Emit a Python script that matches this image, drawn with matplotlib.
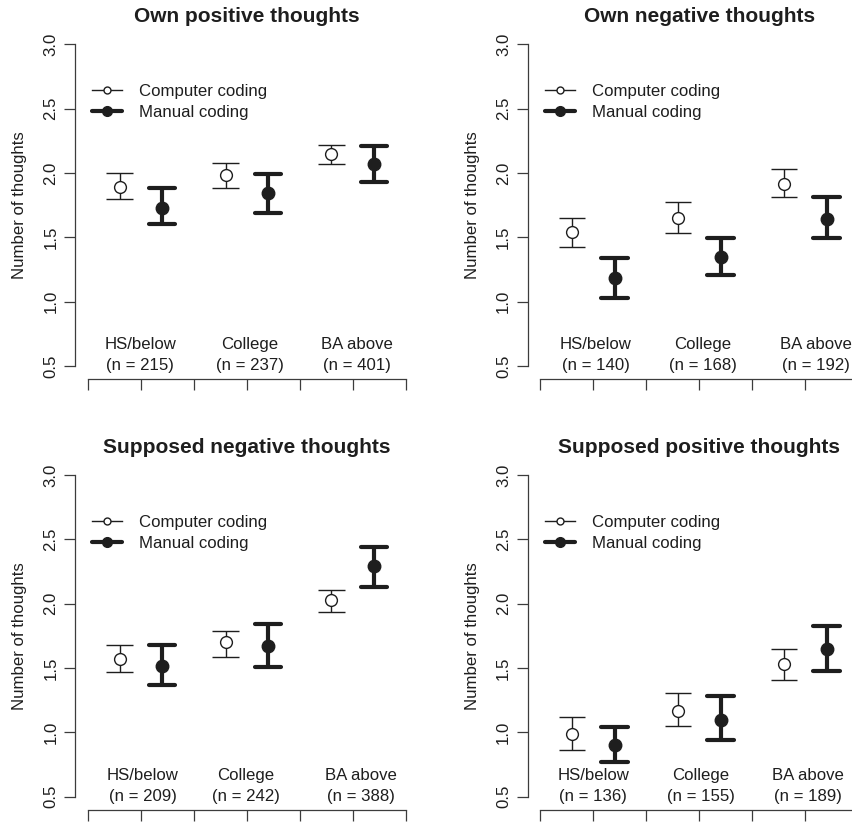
import numpy as np
import matplotlib
matplotlib.use("Agg")
import matplotlib.pyplot as plt
from matplotlib.lines import Line2D

plt.rcParams['font.family'] = ['Liberation Sans', 'DejaVu Sans']

ink = '#1e1e1e'
axis_col = '#3c3c3c'

titles = ["Own positive thoughts", "Own negative thoughts",
          "Supposed negative thoughts", "Supposed positive thoughts"]
groups = ["HS/below", "College", "BA above"]
group_n = [[215, 237, 401],
           [140, 168, 192],
           [209, 242, 388],
           [136, 155, 189]]

# one row per panel, one value per education group
comp_mean = [[1.89, 1.98, 2.15],
             [1.54, 1.65, 1.91],
             [1.57, 1.70, 2.03],
             [0.99, 1.17, 1.53]]
comp_lo = [[1.80, 1.88, 2.07],
           [1.42, 1.53, 1.81],
           [1.47, 1.59, 1.94],
           [0.86, 1.05, 1.41]]
comp_hi = [[2.00, 2.08, 2.22],
           [1.65, 1.77, 2.03],
           [1.68, 1.79, 2.11],
           [1.12, 1.31, 1.65]]

man_mean = [[1.73, 1.84, 2.07],
            [1.18, 1.35, 1.64],
            [1.52, 1.67, 2.29],
            [0.90, 1.10, 1.65]]
man_lo = [[1.60, 1.69, 1.93],
          [1.03, 1.21, 1.49],
          [1.37, 1.51, 2.13],
          [0.77, 0.94, 1.48]]
man_hi = [[1.88, 1.99, 2.21],
          [1.34, 1.49, 1.81],
          [1.68, 1.84, 2.44],
          [1.04, 1.28, 1.83]]

group_centers = np.array([1.0, 3.0, 5.0])
# x position of the group captions in each panel
label_x = [[0.99, 3.06, 5.08],
           [1.04, 3.06, 5.20],
           [1.04, 2.98, 5.15],
           [1.00, 3.02, 5.04]]
y_ticks = [0.5, 1.0, 1.5, 2.0, 2.5, 3.0]
y_tick_labels = ["0.5", "1.0", "1.5", "2.0", "2.5", "3.0"]

W, H = 852, 823
fig = plt.figure(figsize=(W / 100, H / 100), dpi=100)

# panel placement in pixels: left, top (plot region)
panel_px = [(75, 31.4), (527.7, 31.4), (75, 462.3), (527.7, 462.3)]
pw, ph = 343.4, 347.3

fs = 12.1
for i, (left, top) in enumerate(panel_px):
    ax = fig.add_axes([left / W, 1 - (top + ph) / H, pw / W, ph / H])
    ax.set_xlim(-0.24, 6.24)
    ax.set_ylim(0.4, 3.1)

    xc = group_centers - 0.4
    xm = group_centers + 0.4
    cw = 0.25

    # computer coding: thin bars, open circles
    ax.vlines(xc, comp_lo[i], comp_hi[i], color=ink, lw=1)
    ax.hlines(comp_lo[i], xc - cw, xc + cw, color=ink, lw=1)
    ax.hlines(comp_hi[i], xc - cw, xc + cw, color=ink, lw=1)
    ax.plot(xc, comp_mean[i], 'o', mfc='white', mec=ink, mew=1, ms=8.5, zorder=3)

    # manual coding: thick bars, filled circles
    ax.vlines(xm, man_lo[i], man_hi[i], color=ink, lw=3, capstyle='round')
    ax.hlines(man_lo[i], xm - cw, xm + cw, color=ink, lw=3, capstyle='round')
    ax.hlines(man_hi[i], xm - cw, xm + cw, color=ink, lw=3, capstyle='round')
    ax.plot(xm, man_mean[i], 'o', color=ink, ms=9, zorder=3)

    for x, g, n in zip(label_x[i], groups, group_n[i]):
        ax.text(x, 0.585, f"{g}\n(n = {n})", ha='center', va='center',
                fontsize=fs, color=ink, linespacing=1.45)

    for s in ['top', 'right']:
        ax.spines[s].set_visible(False)
    ax.spines['left'].set_bounds(0.5, 3.0)
    ax.spines['bottom'].set_bounds(0, 6)
    for s in ['left', 'bottom']:
        ax.spines[s].set_color(axis_col)
        ax.spines[s].set_linewidth(0.9)

    ax.set_xticks(range(7))
    ax.set_xticklabels([])
    ax.set_yticks(y_ticks)
    ax.set_yticklabels(y_tick_labels, rotation=90, va='center')
    ax.tick_params(length=8, width=0.9, color=axis_col, labelsize=fs,
                   labelcolor=ink, pad=4)

    ax.set_title(titles[i], fontsize=15, fontweight='bold', color=ink, pad=7)
    ax.set_ylabel("Number of thoughts", fontsize=fs, color=ink)
    ax.yaxis.set_label_coords(-0.14, 0.5)

    handles = [
        Line2D([], [], color=ink, lw=1, marker='o', mfc='white', mec=ink,
               mew=1, ms=5),
        Line2D([], [], color=ink, lw=3, marker='o', ms=7,
               solid_capstyle='round'),
    ]
    ax.legend(handles, ["Computer coding", "Manual coding"], loc='upper left',
              bbox_to_anchor=(0.0495, 0.849), frameon=False, fontsize=fs,
              handlelength=1.8, handletextpad=1.0, labelspacing=0.35,
              borderpad=0, borderaxespad=0, labelcolor=ink)

fig.savefig("out.png", dpi=100)
